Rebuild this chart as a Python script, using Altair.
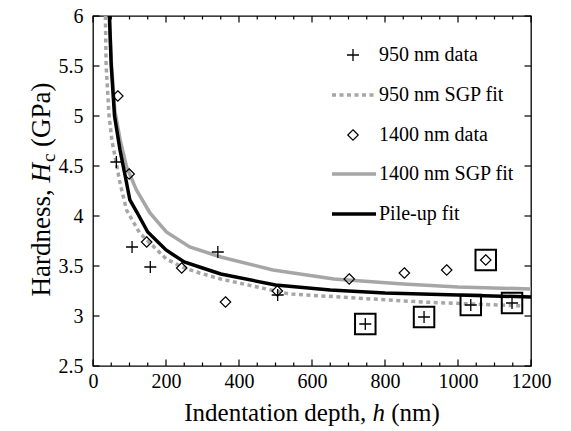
import altair as alt
import pandas as pd

# ---------------- data ----------------
h950 = [64, 107, 157, 342, 506, 746, 907, 1035, 1148]
H950 = [4.54, 3.69, 3.49, 3.64, 3.21, 2.92, 2.99, 3.11, 3.13]

h1400 = [68, 99, 147, 243, 363, 505, 702, 853, 969, 1076]
H1400 = [5.20, 4.42, 3.74, 3.48, 3.14, 3.25, 3.37, 3.43, 3.46, 3.56]

h_boxed = [746, 907, 1035, 1148, 1076]
H_boxed = [2.92, 2.99, 3.11, 3.13, 3.56]

fit950_h = [34, 36, 44, 52, 60, 74, 92, 128, 201, 244, 292, 350, 538, 675, 900, 1180]
fit950_H = [6.0, 5.5, 5.0, 4.75, 4.6, 4.33, 4.06, 3.83, 3.57, 3.49, 3.43, 3.37, 3.22, 3.19, 3.14, 3.10]

fit1400_h = [45, 50, 60, 75, 92, 119, 156, 201, 265, 350, 493, 660, 850, 1000, 1200]
fit1400_H = [6.0, 5.55, 5.05, 4.75, 4.49, 4.26, 4.03, 3.84, 3.69, 3.59, 3.46, 3.37, 3.32, 3.29, 3.27]

pile_h = [45, 50, 59, 74, 92, 101, 120, 150, 200, 250, 300, 350, 500, 650, 800, 1000, 1200]
pile_H = [6.0, 5.5, 5.0, 4.66, 4.33, 4.16, 4.04, 3.84, 3.66, 3.54, 3.48, 3.42, 3.31, 3.26, 3.23, 3.21, 3.19]

x_major = [0, 200, 400, 600, 800, 1000, 1200]
x_minor = [v for v in range(50, 1200, 50) if v % 200 != 0]
y_ticks = [2.5, 3.0, 3.5, 4.0, 4.5, 5.0, 5.5, 6.0]

legend_labels = ["950 nm data", "950 nm SGP fit", "1400 nm data", "1400 nm SGP fit", "Pile-up fit"]

# ---------------- styling ----------------
W, H = 438, 350
FONT = "Liberation Serif"
GRAY = "#a6a6a6"
PLUS = "M-1,0L1,0M0,-1L0,1"
DIAM = "M0,-1L1,0L0,1L-1,0Z"

xs = alt.Scale(domain=[0, 1200], nice=False, zero=False)
ys = alt.Scale(domain=[2.5, 6], nice=False, zero=False)
xaxis = alt.Axis(values=x_major, ticks=False, domain=False, grid=False, title=None,
                 labelFont=FONT, labelFontSize=20, labelColor="black", labelPadding=5,
                 labelFlush=False, format="d")
yaxis = alt.Axis(values=y_ticks, ticks=False, domain=False, grid=False, title=None,
                 labelFont=FONT, labelFontSize=20, labelColor="black", labelPadding=10,
                 format="~g")


def X(f):
    return alt.X(f, type="quantitative", scale=xs, axis=xaxis)


def Y(f):
    return alt.Y(f, type="quantitative", scale=ys, axis=yaxis)


df950 = pd.DataFrame({"h": h950, "H": H950})
df1400 = pd.DataFrame({"h": h1400, "H": H1400})
dfbox = pd.DataFrame({"h": h_boxed, "H": H_boxed})
dfit950 = pd.DataFrame({"h": fit950_h, "H": fit950_H})
dfit1400 = pd.DataFrame({"h": fit1400_h, "H": fit1400_H})
dpile = pd.DataFrame({"h": pile_h, "H": pile_H})

layers = []

# fit curves
layers.append(alt.Chart(dfit950).mark_line(color=GRAY, strokeWidth=3.5, strokeDash=[4, 3.5],
                                           strokeCap="butt", clip=True)
              .encode(x=X("h"), y=Y("H"), order="h:Q"))
layers.append(alt.Chart(dfit1400).mark_line(color=GRAY, strokeWidth=3.5, clip=True)
              .encode(x=X("h"), y=Y("H"), order="h:Q"))
layers.append(alt.Chart(dpile).mark_line(color="black", strokeWidth=3.5, clip=True)
              .encode(x=X("h"), y=Y("H"), order="h:Q"))

# data points
layers.append(alt.Chart(df950).mark_point(shape=PLUS, size=144, filled=False, stroke="black",
                                          strokeWidth=1.3, opacity=1)
              .encode(x=X("h"), y=Y("H")))
layers.append(alt.Chart(df1400).mark_point(shape=DIAM, size=110, filled=False, stroke="black",
                                           strokeWidth=1.2, opacity=1)
              .encode(x=X("h"), y=Y("H")))
layers.append(alt.Chart(dfbox).mark_point(shape="square", size=420, filled=False, stroke="black",
                                          strokeWidth=2, opacity=1)
              .encode(x=X("h"), y=Y("H")))

# inward ticks (bottom / top / left / right)
dmaj = pd.DataFrame({"v": x_major})
dmin = pd.DataFrame({"v": x_minor})
dy = pd.DataFrame({"v": y_ticks})
for dd, ln in ((dmaj, 6.5), (dmin, 3.5)):
    layers.append(alt.Chart(dd).mark_rule(color="black", strokeWidth=1.2)
                  .encode(x=X("v"), y=alt.value(H), y2=alt.value(H - ln)))
    layers.append(alt.Chart(dd).mark_rule(color="black", strokeWidth=1.2)
                  .encode(x=X("v"), y=alt.value(0), y2=alt.value(ln)))
layers.append(alt.Chart(dy).mark_rule(color="black", strokeWidth=1.2)
              .encode(y=Y("v"), x=alt.value(0), x2=alt.value(6.5)))
layers.append(alt.Chart(dy).mark_rule(color="black", strokeWidth=1.2)
              .encode(y=Y("v"), x=alt.value(W - 6.5), x2=alt.value(W)))

# ---------------- legend (manual, inside plot) ----------------
one = pd.DataFrame({"a": [0]})
rows = [39, 79, 119, 158, 198]
sym_x = 260
line_x0, line_x1 = 239, 283
text_x = 286
LEG_FS = 20

layers.append(alt.Chart(one).mark_point(shape=PLUS, size=144, filled=False, stroke="black",
                                        strokeWidth=1.3, opacity=1)
              .encode(x=alt.value(sym_x), y=alt.value(rows[0])))
layers.append(alt.Chart(one).mark_rule(color=GRAY, strokeWidth=3.5, strokeDash=[4, 3.5])
              .encode(x=alt.value(line_x0), x2=alt.value(line_x1), y=alt.value(rows[1])))
layers.append(alt.Chart(one).mark_point(shape=DIAM, size=110, filled=False, stroke="black",
                                        strokeWidth=1.2, opacity=1)
              .encode(x=alt.value(sym_x), y=alt.value(rows[2])))
layers.append(alt.Chart(one).mark_rule(color=GRAY, strokeWidth=3.5)
              .encode(x=alt.value(line_x0), x2=alt.value(line_x1), y=alt.value(rows[3])))
layers.append(alt.Chart(one).mark_rule(color="black", strokeWidth=3.5)
              .encode(x=alt.value(line_x0), x2=alt.value(line_x1), y=alt.value(rows[4])))
for lab, ry in zip(legend_labels, rows):
    layers.append(alt.Chart(one).mark_text(text=lab, font=FONT, fontSize=LEG_FS, align="left",
                                           baseline="middle", color="black")
                  .encode(x=alt.value(text_x), y=alt.value(ry)))

# ---------------- axis titles (with italic symbols) ----------------
TF = 25
# x title: "Indentation depth, h (nm)"
xt_y = 405  # alphabetic baseline, plot coordinates
w_left = 7527 * TF / 1000.0
w_h = 500 * TF / 1000.0
w_right = 2194 * TF / 1000.0
xt_start = W / 2 - (w_left + w_h + w_right) / 2
p = xt_start + w_left
layers.append(alt.Chart(one).mark_text(text="Indentation depth,", font=FONT, fontSize=TF,
                                       align="left", baseline="alphabetic", color="black")
              .encode(x=alt.value(xt_start), y=alt.value(xt_y)))
layers.append(alt.Chart(one).mark_text(text="h", font=FONT, fontSize=TF, fontStyle="italic",
                                       align="left", baseline="alphabetic", color="black")
              .encode(x=alt.value(p), y=alt.value(xt_y)))
layers.append(alt.Chart(one).mark_text(text="(nm)", font=FONT, fontSize=TF,
                                       align="left", baseline="alphabetic", color="black")
              .encode(x=alt.value(p + w_h + 250 * TF / 1000.0), y=alt.value(xt_y)))

# y title: "Hardness, H_c (GPa)" rotated
TFY = 27
SUB = 19
yt_x = -51
yt_center = 174
wy1 = 4221 * TFY / 1000.0
wyH = 722 * TFY / 1000.0
wyc = 444 * SUB / 1000.0
wy2 = 2638 * TFY / 1000.0
ybottom = yt_center + (wy1 + wyH + wyc + wy2) / 2
q = ybottom - wy1
layers.append(alt.Chart(one).mark_text(text="Hardness,", font=FONT, fontSize=TFY, angle=270,
                                       align="left", baseline="middle", color="black")
              .encode(x=alt.value(yt_x), y=alt.value(ybottom)))
layers.append(alt.Chart(one).mark_text(text="H", font=FONT, fontSize=TFY, fontStyle="italic",
                                       angle=270, align="left", baseline="middle", color="black")
              .encode(x=alt.value(yt_x), y=alt.value(q)))
layers.append(alt.Chart(one).mark_text(text="c", font=FONT, fontSize=SUB, angle=270,
                                       align="left", baseline="middle", color="black", dy=7)
              .encode(x=alt.value(yt_x), y=alt.value(q - wyH - 1)))
layers.append(alt.Chart(one).mark_text(text="(GPa)", font=FONT, fontSize=TFY, angle=270,
                                       align="left", baseline="middle", color="black")
              .encode(x=alt.value(yt_x), y=alt.value(q - wyH - 1 - wyc - 250 * TFY / 1000.0)))

chart = (alt.layer(*layers)
         .properties(width=W, height=H,
                     autosize=alt.AutoSizeParams(type="none"),
                     padding={"left": 85, "top": 8, "right": 25, "bottom": 61},
                     background="white")
         .configure_axis(labelFont=FONT, labelFontSize=20, labelColor="black")
         .configure_view(stroke="black", strokeWidth=1.3))

chart.save("out.html", embed_options={"renderer": "svg", "actions": False})
